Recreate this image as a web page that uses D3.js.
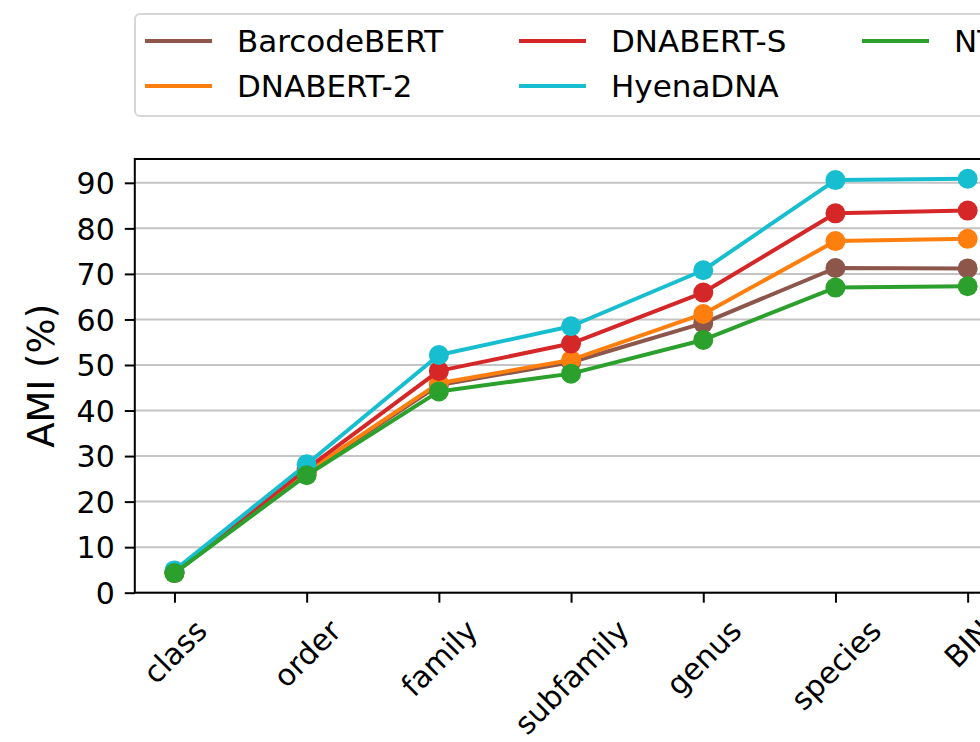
<!DOCTYPE html>
<html>
<head>
<meta charset="utf-8">
<script src="https://cdn.jsdelivr.net/npm/d3@7"></script>
<style>
  html, body { margin: 0; padding: 0; background: #fff; overflow: hidden; }
  svg { display: block; font-family: "DejaVu Sans", sans-serif; }
</style>
</head>
<body>
<svg id="chart" width="980" height="742"></svg>
<script>
// Taxonomic levels along the x axis
const categories = ["class", "order", "family", "subfamily", "genus", "species", "BIN"];

// Models, in plotting order, with their colours
const models = ["BarcodeBERT", "DNABERT-2", "DNABERT-S", "HyenaDNA", "NT"];
const colors = ["#8c564b", "#ff7f0e", "#d62728", "#17becf", "#2ca02c"];

// AMI (%) per taxonomic level
const barcodeBERT = [4.3, 26.4, 45.6, 50.6, 59.2, 71.3, 71.2];
const dnabert2    = [4.4, 26.6, 46.0, 51.1, 61.2, 77.2, 77.7];
const dnabertS    = [4.5, 27.2, 48.7, 54.7, 65.9, 83.3, 83.9];
const hyenaDNA    = [4.9, 28.2, 52.2, 58.5, 70.8, 90.6, 90.9];
const nt          = [4.3, 25.8, 44.2, 48.1, 55.5, 67.0, 67.3];

const yTicks = [0, 10, 20, 30, 40, 50, 60, 70, 80, 90];
const yLabel = "AMI (%)";

const seriesValues = [barcodeBERT, dnabert2, dnabertS, hyenaDNA, nt];
const series = models.map((name, i) => ({ name, color: colors[i], values: seriesValues[i] }));

// ---- layout ----
const svg = d3.select("#chart");
const plot = { left: 134.8, top: 159, bottom: 592.7 };
const xStep = 132.2;
const xMargin = 0.3;
plot.right = plot.left + (categories.length - 1 + 2 * xMargin) * xStep;

const tickFont = 30;
const legendFont = 31;
const labelFont = 37;

// y upper limit follows the usual 5% data margin, bottom pinned at 0
const allVals = seriesValues.flat();
const vMin = d3.min(allVals), vMax = d3.max(allVals);
const yTop = vMax + 0.05 * (vMax - vMin);

const x = d3.scaleLinear()
  .domain([-xMargin, categories.length - 1 + xMargin])
  .range([plot.left, plot.right]);
const y = d3.scaleLinear().domain([0, yTop]).range([plot.bottom, plot.top]);

// grid lines
svg.append("g")
  .selectAll("line")
  .data(yTicks)
  .join("line")
  .attr("x1", plot.left).attr("x2", plot.right)
  .attr("y1", d => y(d)).attr("y2", d => y(d))
  .attr("stroke", "#c4c4c4").attr("stroke-width", 2);

// series lines and markers
const line = d3.line().x((d, i) => x(i)).y(d => y(d));
series.forEach(s => {
  const g = svg.append("g");
  g.append("path")
    .attr("d", line(s.values))
    .attr("fill", "none")
    .attr("stroke", s.color)
    .attr("stroke-width", 4)
    .attr("stroke-linejoin", "round");
  g.selectAll("circle")
    .data(s.values)
    .join("circle")
    .attr("cx", (d, i) => x(i))
    .attr("cy", d => y(d))
    .attr("r", 10)
    .attr("fill", s.color);
});

// frame
svg.append("rect")
  .attr("x", plot.left).attr("y", plot.top)
  .attr("width", plot.right - plot.left).attr("height", plot.bottom - plot.top)
  .attr("fill", "none").attr("stroke", "#000").attr("stroke-width", 2);

// y axis
const yAxis = d3.axisLeft(y).tickValues(yTicks).tickSize(10).tickPadding(10);
const gy = svg.append("g").attr("transform", `translate(${plot.left},0)`).call(yAxis);
gy.select(".domain").remove();
gy.selectAll(".tick line").attr("stroke", "#000").attr("stroke-width", 2);
gy.selectAll(".tick text")
  .attr("font-size", tickFont)
  .attr("font-family", "DejaVu Sans")
  .attr("fill", "#000")
  .attr("dy", "0.36em");

// x axis
const xAxis = d3.axisBottom(x)
  .tickValues(d3.range(categories.length))
  .tickFormat(i => categories[i])
  .tickSize(10);
const gx = svg.append("g").attr("transform", `translate(0,${plot.bottom})`).call(xAxis);
gx.select(".domain").remove();
gx.selectAll(".tick line").attr("stroke", "#000").attr("stroke-width", 2);
const labelTop = 21; // distance from axis to top of rotated label box
gx.selectAll(".tick text")
  .attr("font-size", tickFont)
  .attr("font-family", "DejaVu Sans")
  .attr("fill", "#000")
  .attr("text-anchor", "middle")
  .attr("dy", null)
  .attr("dominant-baseline", "central")
  .each(function () {
    const t = d3.select(this);
    const L = this.getComputedTextLength();
    const h = tickFont * 1.1;
    const cy = labelTop + (L + h) / (2 * Math.SQRT2);
    t.attr("y", cy).attr("x", 0).attr("transform", `rotate(-45,0,${cy})`);
  });

// y label
svg.append("text")
  .attr("transform", `translate(41,${(plot.top + plot.bottom) / 2}) rotate(-90)`)
  .attr("text-anchor", "middle")
  .attr("dominant-baseline", "central")
  .attr("font-size", labelFont)
  .attr("fill", "#000")
  .text(yLabel);

// legend (3 columns, filled column by column)
const legendCfg = { left: 135, top: 14, height: 102, padX: 10, row1: 41, rowGap: 45, handleLen: 67, textGap: 25 };
const colStarts = [145, 519, 862];
const nRows = 2;
const legend = svg.append("g");
const legendBox = legend.append("rect")
  .attr("x", legendCfg.left).attr("y", legendCfg.top)
  .attr("height", legendCfg.height)
  .attr("rx", 5).attr("ry", 5)
  .attr("fill", "#fff").attr("stroke", "#d6d6d6").attr("stroke-width", 2);

let legendRight = 0;
series.forEach((s, i) => {
  const c = Math.floor(i / nRows), r = i % nRows;
  const x0 = colStarts[c], yy = legendCfg.row1 + r * legendCfg.rowGap;
  legend.append("line")
    .attr("x1", x0).attr("x2", x0 + legendCfg.handleLen)
    .attr("y1", yy).attr("y2", yy)
    .attr("stroke", s.color).attr("stroke-width", 4);
  const t = legend.append("text")
    .attr("x", x0 + legendCfg.handleLen + legendCfg.textGap)
    .attr("y", yy)
    .attr("dominant-baseline", "central")
    .attr("font-size", legendFont)
    .attr("fill", "#000")
    .text(s.name);
  legendRight = Math.max(legendRight, x0 + legendCfg.handleLen + legendCfg.textGap + t.node().getComputedTextLength());
});
legendBox.attr("width", legendRight + legendCfg.padX - legendCfg.left);
</script>
</body>
</html>
